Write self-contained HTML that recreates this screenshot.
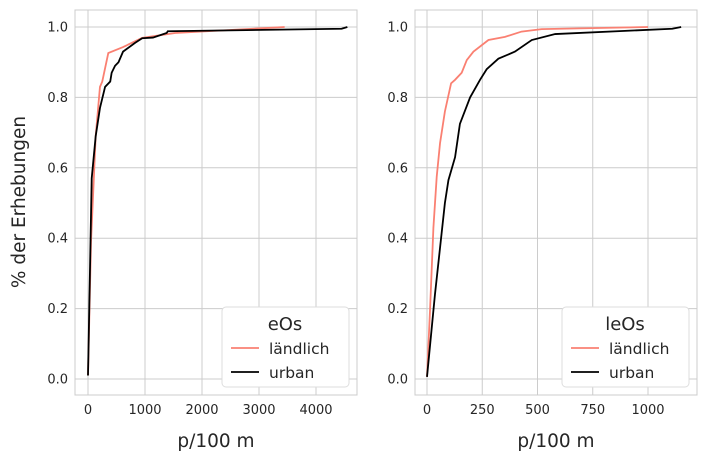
<!DOCTYPE html>
<html><head><meta charset="utf-8"><style>
body{margin:0;background:#fff;font-family:"Liberation Sans","DejaVu Sans",sans-serif}
svg text{font-family:"DejaVu Sans","Liberation Sans",sans-serif;fill:#262626}
</style></head><body>
<svg id="c" width="704" height="461" viewBox="0 0 704 461"></svg>
<script>
const lx1=[0,53,135,210,250,356,615,950,1530,3450];
const ly1=[0.01,0.39,0.69,0.83,0.845,0.926,0.943,0.969,0.983,1.0];
const ux1=[0,65,135,210,300,390,415,475,535,615,825,950,1140,1380,1400,4450,4550];
const uy1=[0.01,0.57,0.69,0.77,0.83,0.845,0.87,0.89,0.9,0.93,0.955,0.968,0.97,0.983,0.988,0.995,1.0];
const lx2=[0,14,29,44,59,81,109,127,157,180,210,278,353,428,519,1000];
const ly2=[0.006,0.2,0.43,0.575,0.67,0.76,0.84,0.85,0.87,0.906,0.93,0.963,0.972,0.987,0.994,1.0];
const ux2=[0,36,81,97,127,149,195,240,270,323,398,474,580,1110,1150];
const uy2=[0.006,0.24,0.5,0.565,0.63,0.725,0.80,0.85,0.88,0.91,0.93,0.963,0.98,0.995,1.0];
const xt1=[0,1000,2000,3000,4000];
const xt2=[0,250,500,750,1000];
const yt=[0.0,0.2,0.4,0.6,0.8,1.0];
const svg=document.getElementById('c');
const NS='http://www.w3.org/2000/svg';
function mk(t,a,p){const e=document.createElementNS(NS,t);for(const k in a)e.setAttribute(k,a[k]);(p||svg).appendChild(e);return e;}
function yS(v){return 379-v*352;}
function panel(id,left,right,x0,k,xt,lx,ly,ux,uy,title){
  const g=mk('g',{});
  
  
  const xS=v=>x0+v*k;
  mk('rect',{x:left,y:10,width:right-left,height:385,fill:'#fff',stroke:'#ccc','stroke-width':1},g);
  xt.forEach(t=>{const x=xS(t);
    const l=mk('line',{x1:x,x2:x,y1:10,y2:395,stroke:'#ccc'},g);
    
    const tx=mk('text',{x:x,y:414,'font-size':13,'text-anchor':'middle'},g);tx.textContent=t;
    });
  yt.forEach(t=>{const y=yS(t);
    const l=mk('line',{x1:left,x2:right,y1:y,y2:y,stroke:'#ccc'},g);
    
    const tx=mk('text',{x:left-7,y:y+4.5,'font-size':13,'text-anchor':'end'},g);tx.textContent=t.toFixed(1);
    });
  const pl=mk('polyline',{points:lx.map((v,i)=>xS(v)+','+yS(ly[i])).join(' '),fill:'none',stroke:'#fa8072','stroke-width':1.8},g);
  
  const pu=mk('polyline',{points:ux.map((v,i)=>xS(v)+','+yS(uy[i])).join(' '),fill:'none',stroke:'#000','stroke-width':1.8},g);
  
  const xl=mk('text',{x:(left+right)/2,y:447,'font-size':18.5,'text-anchor':'middle'},g);xl.textContent='p/100 m';
  
  const lg=mk('g',{},g);
  
  const bx=right-135;
  mk('rect',{x:bx,y:307,width:127,height:80,rx:4,fill:'#fff',stroke:'#ddd'},lg);
  const tt=mk('text',{x:bx+63,y:330,'font-size':18,'text-anchor':'middle'},lg);tt.textContent=title;
  mk('line',{x1:bx+9,x2:bx+37,y1:348,y2:348,stroke:'#fa8072','stroke-width':1.8},lg);
  const t1=mk('text',{x:bx+47,y:354,'font-size':15.5},lg);t1.textContent='ländlich';
  mk('line',{x1:bx+9,x2:bx+37,y1:372,y2:372,stroke:'#000','stroke-width':1.8},lg);
  const t2=mk('text',{x:bx+47,y:378,'font-size':15.5},lg);t2.textContent='urban';
}
panel('left',75,357,88,0.057,xt1,lx1,ly1,ux1,uy1,'eOs');
panel('right',415,697,427,0.221,xt2,lx2,ly2,ux2,uy2,'leOs');
const yl=mk('text',{x:25,y:202,'font-size':18.5,'text-anchor':'middle',transform:'rotate(-90 25 202)'});
yl.textContent='% der Erhebungen';


</script>
</body></html>
